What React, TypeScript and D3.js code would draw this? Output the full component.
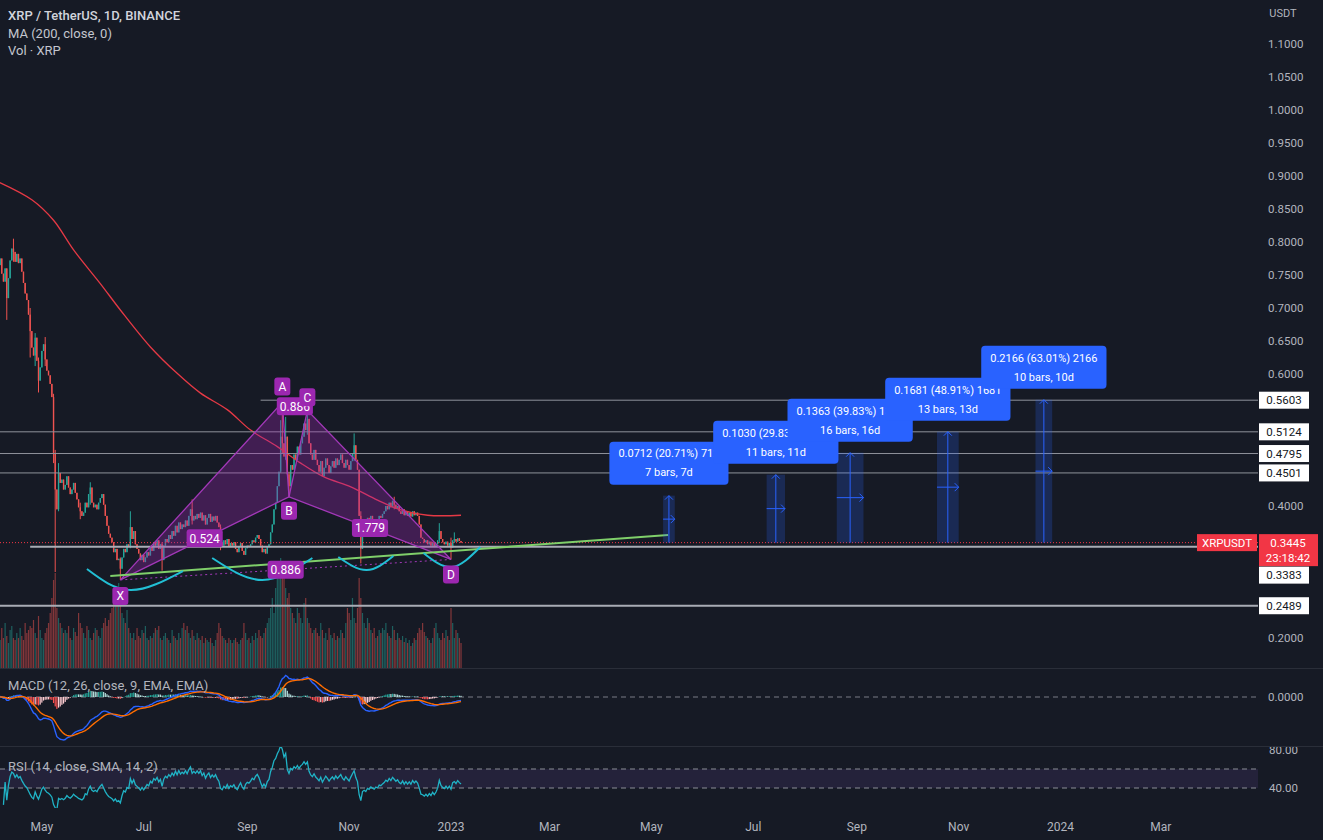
import React from 'react';
import * as d3 from 'd3';

// ---------------- DATA ----------------
const firstDay = '2022-04-05';

const closes = [
  0.765, 0.775, 0.752, 0.740, 0.760, 0.715, 0.745, 0.772, 0.790, 0.785,
  0.770, 0.782, 0.768, 0.775, 0.755, 0.738, 0.722, 0.712, 0.690, 0.665,
  0.640, 0.628, 0.655, 0.620, 0.590, 0.610, 0.635, 0.645, 0.622, 0.605,
  0.598, 0.585, 0.565, 0.480, 0.425, 0.395, 0.450, 0.435, 0.440, 0.425,
  0.432, 0.445, 0.428, 0.418, 0.425, 0.435, 0.420, 0.410, 0.398, 0.392,
  0.385, 0.390, 0.405, 0.398, 0.418, 0.428, 0.405, 0.398, 0.402, 0.395,
  0.405, 0.412, 0.418, 0.402, 0.385, 0.370, 0.358, 0.352, 0.345, 0.330,
  0.335, 0.318, 0.320, 0.305, 0.322, 0.335, 0.330, 0.342, 0.338, 0.368,
  0.350, 0.362, 0.342, 0.335, 0.328, 0.318, 0.326, 0.315, 0.322, 0.330,
  0.325, 0.338, 0.332, 0.345, 0.340, 0.348, 0.335, 0.342, 0.318, 0.340,
  0.350, 0.345, 0.356, 0.350, 0.362, 0.355, 0.370, 0.360, 0.375, 0.365,
  0.372, 0.368, 0.378, 0.370, 0.385, 0.395, 0.378, 0.385, 0.380, 0.388,
  0.382, 0.390, 0.378, 0.386, 0.372, 0.382, 0.388, 0.376, 0.384, 0.378,
  0.385, 0.375, 0.368, 0.345, 0.340, 0.348, 0.342, 0.350, 0.338, 0.344,
  0.340, 0.345, 0.335, 0.330, 0.338, 0.344, 0.332, 0.326, 0.336, 0.340,
  0.338, 0.342, 0.348, 0.345, 0.352, 0.356, 0.350, 0.340, 0.330, 0.335,
  0.328, 0.338, 0.342, 0.360, 0.372, 0.395, 0.405, 0.430, 0.452, 0.505,
  0.495, 0.475, 0.505, 0.448, 0.430, 0.462, 0.455, 0.478, 0.470, 0.490,
  0.478, 0.495, 0.505, 0.525, 0.515, 0.532, 0.495, 0.478, 0.470, 0.485,
  0.470, 0.462, 0.452, 0.468, 0.445, 0.458, 0.472, 0.462, 0.450, 0.460,
  0.468, 0.458, 0.472, 0.462, 0.470, 0.478, 0.465, 0.458, 0.470, 0.462,
  0.455, 0.468, 0.480, 0.492, 0.470, 0.455, 0.385, 0.335, 0.372, 0.378,
  0.368, 0.382, 0.375, 0.385, 0.378, 0.372, 0.380, 0.375, 0.385, 0.382,
  0.388, 0.392, 0.400, 0.395, 0.405, 0.398, 0.408, 0.402, 0.396, 0.400,
  0.392, 0.388, 0.395, 0.386, 0.392, 0.385, 0.390, 0.384, 0.392, 0.386,
  0.390, 0.385, 0.372, 0.352, 0.350, 0.345, 0.348, 0.342, 0.346, 0.340,
  0.345, 0.338, 0.342, 0.348, 0.362, 0.350, 0.345, 0.342, 0.346, 0.340,
  0.344, 0.337, 0.348, 0.350, 0.346, 0.351, 0.347, 0.3445,
];

// [bar index, high, low] for the bars whose wicks stand out
const wicks: [number, number, number][] = [
  [5, 0.758, 0.682], [9, 0.805, 0.770], [19, 0.700, 0.625], [22, 0.662, 0.612],
  [24, 0.625, 0.572], [28, 0.656, 0.612], [33, 0.570, 0.465], [34, 0.485, 0.300],
  [36, 0.465, 0.392], [49, 0.405, 0.380], [55, 0.436, 0.402], [73, 0.322, 0.288],
  [79, 0.392, 0.336], [98, 0.345, 0.302], [116, 0.41, 0.372], [133, 0.372, 0.333],
  [169, 0.530, 0.450], [170, 0.557, 0.480], [172, 0.535, 0.470], [174, 0.452, 0.414],
  [185, 0.545, 0.508], [213, 0.510, 0.468], [217, 0.392, 0.313], [237, 0.414, 0.395],
  [264, 0.374, 0.344], [271, 0.352, 0.319], [273, 0.360, 0.344],
];

const volumes = [
  35, 28, 40, 30, 45, 32, 25, 38, 42, 30,
  28, 35, 30, 40, 32, 28, 45, 35, 38, 42,
  40, 48, 35, 30, 52, 38, 30, 28, 35, 40,
  45, 55, 70, 88, 95, 60, 50, 45, 40, 35,
  38, 35, 42, 30, 28, 40, 36, 32, 55, 45,
  40, 35, 30, 42, 38, 30, 28, 35, 40, 38,
  32, 30, 40, 45, 50, 42, 48, 55, 60, 70,
  75, 80, 85, 78, 55, 50, 45, 58, 40, 35,
  30, 35, 28, 40, 32, 30, 38, 35, 42, 30,
  28, 32, 30, 35, 40, 38, 42, 30, 28, 32,
  35, 30, 28, 25, 38, 32, 30, 28, 35, 30,
  40, 45, 38, 42, 35, 30, 38, 32, 28, 35,
  30, 28, 32, 25, 30, 28, 26, 30, 25, 22,
  28, 35, 45, 40, 32, 30, 28, 25, 30, 28,
  25, 28, 30, 26, 24, 28, 30, 45, 35, 28,
  30, 25, 32, 28, 35, 30, 38, 32, 30, 35,
  40, 45, 50, 60, 70, 55, 80, 95, 105, 110,
  100, 90, 80, 70, 75, 60, 55, 50, 45, 60,
  55, 50, 45, 65, 70, 50, 45, 40, 35, 38,
  40, 35, 32, 45, 38, 30, 35, 28, 40, 33,
  30, 35, 28, 32, 30, 38, 35, 30, 45, 60,
  55, 48, 70, 50, 45, 60, 90, 70, 55, 45,
  40, 50, 45, 38, 35, 40, 30, 32, 38, 35,
  40, 38, 45, 35, 32, 30, 42, 38, 28, 35,
  30, 28, 32, 26, 30, 25, 28, 22, 25, 30,
  28, 35, 40, 38, 45, 36, 32, 30, 28, 25,
  30, 40, 45, 35, 30, 28, 35, 30, 38, 32,
  28, 60, 45, 30, 38, 35, 30, 25,
];

// MA(200): [bar index, value]
const ma200: [number, number][] = [
  [0, 0.891], [20, 0.864], [33, 0.833], [45, 0.788], [61, 0.737], [73, 0.697],
  [91, 0.641], [107, 0.601], [121, 0.571], [137, 0.546], [151, 0.515], [167, 0.490],
  [181, 0.465], [195, 0.444], [211, 0.429], [227, 0.409], [241, 0.394], [257, 0.386],
  [277, 0.386],
];

const priceTicks = [1.1, 1.05, 1.0, 0.95, 0.9, 0.85, 0.8, 0.75, 0.7, 0.65, 0.6, 0.55, 0.5, 0.45, 0.4, 0.35, 0.3, 0.25, 0.2];

const timeTicks = ['2022-05-01', '2022-07-01', '2022-09-01', '2022-11-01', '2023-01-01', '2023-03-01',
  '2023-05-01', '2023-07-01', '2023-09-01', '2023-11-01', '2024-01-01', '2024-03-01'];
const timeTickLabels = ['May', 'Jul', 'Sep', 'Nov', '2023', 'Mar', 'May', 'Jul', 'Sep', 'Nov', '2024', 'Mar'];

const levelPrices = [0.5603, 0.5124, 0.4795, 0.4501, 0.3383, 0.2489];
const levelStartBar = [157, -2, -2, -2, 19, -2];

const lastPrice = 0.3445;
const countdown = '23:18:42';
const symbol = 'XRPUSDT';

// XABCD harmonic pattern
const patternNames = ['X', 'A', 'B', 'C', 'D'];
const patternBars = [73, 170, 174, 185, 271];
const patternPrices = [0.288, 0.557, 0.414, 0.545, 0.319];
const ratioXB = '0.524';
const ratioAC = '0.886';
const ratioBD = '1.779';
const ratioXD = '0.886';

// Trend line: [bar, price]
const trendLine: [number, number][] = [[67, 0.294], [401, 0.356]];

// Cyan arcs: three points each [bar, price]
const arcs: [number, number][][] = [
  [[53, 0.3045], [79, 0.2727], [110.5, 0.3015]],
  [[128, 0.3212], [158, 0.2879], [188, 0.3212]],
  [[203.5, 0.3227], [220.5, 0.3030], [236.5, 0.3242]],
  [[254.5, 0.3288], [271.5, 0.3076], [288.5, 0.3379]],
];

// Price range measurements
const measureStart = [398, 460, 502, 562, 621];
const measureBars = [7, 11, 16, 13, 10];
const measureDelta = [0.0712, 0.1030, 0.1363, 0.1681, 0.2166];
const measureText1 = ['0.0712 (20.71%) 712', '0.1030 (29.83%) 1030', '0.1363 (39.83%) 1363', '0.1681 (48.91%) 1681', '0.2166 (63.01%) 2166'];
const measureText2 = ['7 bars, 7d', '11 bars, 11d', '16 bars, 16d', '13 bars, 13d', '10 bars, 10d'];

const rsiTicks = [80, 40];
const rsiBands = [60, 40];

// ---------------- HELPERS ----------------
function ema(arr: number[], n: number) {
  const k = 2 / (n + 1);
  const out: number[] = [];
  arr.forEach((v, i) => out.push(i === 0 ? v : v * k + out[i - 1] * (1 - k)));
  return out;
}

function textWidth(t: string, font: string) {
  const c = document.createElement('canvas').getContext('2d');
  if (!c) return t.length * 6;
  c.font = font;
  return c.measureText(t).width;
}

const BG = '#161a25';
const FONT = 'Roboto, "Noto Sans", sans-serif';
const UP = '#26a69a';
const DOWN = '#ef5350';
const PURPLE = '#9c27b0';
const BLUE = '#2962ff';

export default function App() {
  const W = 1323, H = 840;
  const plotR = 1258;
  const DAY = 86400000;
  const t0 = d3.utcParse('%Y-%m-%d')(firstDay)!.getTime();
  const dateOf = (i: number) => new Date(t0 + i * DAY);
  const x = d3.scaleUtc()
    .domain([new Date(Date.UTC(2023, 0, 1)), new Date(Date.UTC(2024, 0, 1))])
    .range([451, 451 + 365 * 1.67]);
  const xi = (i: number) => x(dateOf(i));

  const y = d3.scaleLinear().domain([0.2, 1.1]).range([638, 44]);
  const vy = d3.scaleLinear().domain([0, 100]).range([668, 568]);
  const ry = d3.scaleLinear().domain([40, 80]).range([788, 750]);

  const candles = closes.map((c, i) => {
    const o = i === 0 ? c : closes[i - 1];
    let h = Math.max(o, c), l = Math.min(o, c);
    const w = wicks.find((q) => q[0] === i);
    if (w) { h = Math.max(h, w[1]); l = Math.min(l, w[2]); }
    return { i, o, c, h, l, up: c >= o };
  });

  // MACD
  const e12 = ema(closes, 12), e26 = ema(closes, 26);
  const macd = closes.map((_, i) => e12[i] - e26[i]);
  const signal = ema(macd, 9);
  const hist = macd.map((m, i) => m - signal[i]);
  const mMin = d3.min(macd)!;
  const my = d3.scaleLinear().domain([mMin, 0]).range([740, 697]);

  // RSI (14): running mean for the first bars, then Wilder smoothing
  const rsi: (number | null)[] = [];
  let ag = 0, al = 0;
  closes.forEach((c, i) => {
    if (i === 0) { rsi.push(null); return; }
    const ch = c - closes[i - 1];
    const g = Math.max(ch, 0), l = Math.max(-ch, 0);
    const n = Math.min(i, 14);
    ag = (ag * (n - 1) + g) / n;
    al = (al * (n - 1) + l) / n;
    rsi.push(i < 3 ? null : (al === 0 ? 100 : 100 - 100 / (1 + ag / al)));
  });

  const lineGen = d3.line<[number, number]>().x((d) => xi(d[0])).y((d) => y(d[1]));
  const maPath = d3.line<[number, number]>().x((d) => xi(d[0])).y((d) => y(d[1])).curve(d3.curveCatmullRom)(ma200)!;
  const arcGen = d3.line<[number, number]>().x((d) => xi(d[0])).y((d) => y(d[1])).curve(d3.curveNatural);
  const macdLine = d3.line<number>().x((_, i) => xi(i)).y((d) => my(d));
  const rsiLine = d3.line<number | null>().defined((d) => d !== null).x((_, i) => xi(i)).y((d) => ry(d as number));

  const pts = patternBars.map((b, k) => ({ x: xi(b), y: y(patternPrices[k]), name: patternNames[k] }));
  const [pX, pA, pB, pC, pD] = pts;
  const mid = (a: any, b: any) => ({ x: (a.x + b.x) / 2, y: (a.y + b.y) / 2 });
  const ratioLabels = [
    { t: ratioXB, ...mid(pX, pB) },
    { t: ratioAC, ...mid(pA, pC) },
    { t: ratioBD, ...mid(pB, pD) },
    { t: ratioXD, ...mid(pX, pD) },
  ];
  const pointLabelOffset = [16, -16, 14, -13, 15];

  const lastY = y(lastPrice);
  const thick = new Set([0.3383, 0.2489]);

  const labelFont = `11px ${FONT}`;

  // axis label boxes (price levels), pushed below the last-price box when they collide
  const levelBoxes = levelPrices.map((p) => {
    let cy = y(p);
    if (cy + 8.5 > lastY - 8.5 && cy - 8.5 < lastY + 24) cy = lastY + 24 + 8.5;
    return { p, cy };
  });
  const occupied = [...levelBoxes.map((b) => [b.cy - 8.5, b.cy + 8.5]), [lastY - 8.5, lastY + 23.5]];
  const visibleTicks = priceTicks.filter((p) => {
    const ty = y(p);
    return !occupied.some(([a, b]) => ty + 6 > a && ty - 6 < b);
  });

  return (
    <div style={{ position: 'absolute', left: 0, top: 0 }}>
      <svg width={W} height={H} style={{ display: 'block', background: BG }} fontFamily={FONT}>
        <defs>
          <clipPath id="mainClip"><rect x={0} y={0} width={plotR} height={668} /></clipPath>
          <clipPath id="macdClip"><rect x={0} y={669} width={plotR} height={77} /></clipPath>
          <clipPath id="rsiClip"><rect x={0} y={747} width={plotR} height={61} /></clipPath>
          <clipPath id="rsiAxisClip"><rect x={plotR} y={747} width={W - plotR} height={61} /></clipPath>
        </defs>
        <rect x={0} y={0} width={W} height={H} fill={BG} />

        {/* pane separators */}
        <line x1={0} x2={W} y1={668.5} y2={668.5} stroke="#2a2e39" />
        <line x1={0} x2={W} y1={746.5} y2={746.5} stroke="#2a2e39" />

        {/* ===== MAIN PANE ===== */}
        <g clipPath="url(#mainClip)">
          {/* volume */}
          {candles.map((d) => (
            <rect key={'v' + d.i} x={xi(d.i) - 0.6} width={1.2} y={vy(volumes[d.i])} height={668 - vy(volumes[d.i])}
              fill={d.up ? UP : DOWN} opacity={0.5} />
          ))}
          {/* candles */}
          {candles.map((d) => {
            const cx = xi(d.i);
            const col = d.up ? UP : DOWN;
            const yt = y(Math.max(d.o, d.c)), yb = y(Math.min(d.o, d.c));
            return (
              <g key={'c' + d.i}>
                <line x1={cx} x2={cx} y1={y(d.h)} y2={y(d.l)} stroke={col} strokeWidth={1} />
                <rect x={cx - 0.7} width={1.4} y={yt} height={Math.max(1, yb - yt)} fill={col} />
              </g>
            );
          })}
          {/* MA 200 */}
          <path d={maPath} fill="none" stroke="#e53945" strokeWidth={1.3} />

          {/* horizontal levels */}
          {levelPrices.map((p, k) => (
            <line key={'lv' + k} x1={xi(levelStartBar[k])} x2={plotR} y1={y(p)} y2={y(p)}
              stroke={thick.has(p) ? '#a9acb5' : '#8f929b'} strokeWidth={thick.has(p) ? 2 : 1} />
          ))}
          {/* last price dotted */}
          <line x1={0} x2={plotR} y1={lastY} y2={lastY} stroke="#f23645" strokeWidth={1} strokeDasharray="1 2" />

          {/* XABCD pattern */}
          <polygon points={[pX, pA, pB].map((p) => `${p.x},${p.y}`).join(' ')} fill={PURPLE} fillOpacity={0.33}
            stroke="#a238b8" strokeWidth={1.3} />
          <polygon points={[pB, pC, pD].map((p) => `${p.x},${p.y}`).join(' ')} fill={PURPLE} fillOpacity={0.33}
            stroke="#a238b8" strokeWidth={1.3} />
          <line x1={pA.x} y1={pA.y} x2={pC.x} y2={pC.y} stroke="#a238b8" strokeDasharray="3 3" />
          <line x1={pX.x} y1={pX.y} x2={pD.x} y2={pD.y} stroke="#a238b8" strokeDasharray="2 3" />

          {/* trend line */}
          <path d={lineGen(trendLine)!} stroke="#7fcf6a" strokeWidth={2} fill="none" />
          {/* arcs */}
          {arcs.map((a, k) => (
            <path key={'arc' + k} d={arcGen(a)!} stroke="#22bfd4" strokeWidth={2} fill="none" />
          ))}

          {/* ratio labels */}
          {ratioLabels.map((r, k) => {
            const w = textWidth(r.t, `12px ${FONT}`) + 6;
            return (
              <g key={'rl' + k}>
                <rect x={r.x - w / 2} y={r.y - 9} width={w} height={18} rx={3} fill={PURPLE} />
                <text x={r.x} y={r.y} dy="0.35em" textAnchor="middle" fontSize={12} fill="#fff">{r.t}</text>
              </g>
            );
          })}
          {/* point labels */}
          {pts.map((p, k) => {
            const cy = p.y + pointLabelOffset[k];
            return (
              <g key={'pl' + k}>
                <rect x={p.x - 8} y={cy - 9} width={16} height={18} rx={3} fill={PURPLE} />
                <text x={p.x} y={cy} dy="0.35em" textAnchor="middle" fontSize={12} fill="#fff">{p.name}</text>
              </g>
            );
          })}

          {/* measurements */}
          {measureStart.map((s, k) => {
            const x0 = xi(s), x1 = xi(s + measureBars[k]);
            const cx = (x0 + x1) / 2;
            const yT = y(lastPrice + measureDelta[k]);
            const yB = lastY;
            const ym = (yT + yB) / 2;
            const tw = Math.max(textWidth(measureText1[k], labelFont), textWidth(measureText2[k], labelFont));
            const bw = tw + 18;
            const bTop = yT - 11 - 43;
            return (
              <g key={'m' + k}>
                <rect x={x0} y={yT} width={x1 - x0} height={yB - yT} fill={BLUE} fillOpacity={0.22} />
                <line x1={cx} x2={cx} y1={yB} y2={yT} stroke={BLUE} strokeWidth={1} />
                <path d={`M${cx - 4},${yT + 4}L${cx},${yT}L${cx + 4},${yT + 4}`} stroke={BLUE} fill="none" />
                <line x1={x0} x2={x1} y1={ym} y2={ym} stroke={BLUE} strokeWidth={1} />
                <path d={`M${x1 - 4},${ym - 4}L${x1},${ym}L${x1 - 4},${ym + 4}`} stroke={BLUE} fill="none" />
                <rect x={cx - bw / 2} y={bTop} width={bw} height={43} rx={4} fill={BLUE} />
                <text x={cx} y={bTop + 12} dy="0.35em" textAnchor="middle" fontSize={11} fill="#fff">{measureText1[k]}</text>
                <text x={cx} y={bTop + 31} dy="0.35em" textAnchor="middle" fontSize={11} fill="#fff">{measureText2[k]}</text>
              </g>
            );
          })}

          {/* symbol label */}
          <rect x={1197} y={lastY - 8.5} width={60} height={17} fill="#f23645" />
          <text x={1227} y={lastY} dy="0.35em" textAnchor="middle" fontSize={11.5} fill="#fff">{symbol}</text>
        </g>

        {/* legend */}
        <text x={8} y={15} dy="0.35em" fontSize={13} fontWeight={500} fill="#d1d4dc">XRP / TetherUS, 1D, BINANCE</text>
        <text x={8} y={33} dy="0.35em" fontSize={13} fill="#c3c6ce">MA (200, close, 0)</text>
        <text x={8} y={50} dy="0.35em" fontSize={13} fill="#c3c6ce">Vol · XRP</text>

        {/* price axis */}
        <text x={1283} y={13} dy="0.35em" textAnchor="middle" fontSize={11} fill="#b2b5be">USDT</text>
        {visibleTicks.map((p) => (
          <text key={'pt' + p} x={1268} y={y(p)} dy="0.35em" fontSize={11.5} fill="#b2b5be">{p.toFixed(4)}</text>
        ))}
        {levelBoxes.map((b, k) => (
          <g key={'lb' + k}>
            <rect x={1259} y={b.cy - 8.5} width={50} height={17} fill="#ffffff" />
            <text x={1284} y={b.cy} dy="0.35em" textAnchor="middle" fontSize={11.5} fill="#131722">{b.p.toFixed(4)}</text>
          </g>
        ))}
        <rect x={1259} y={lastY - 8.5} width={59} height={32} fill="#f23645" />
        <text x={1288} y={lastY + 0.5} dy="0.35em" textAnchor="middle" fontSize={11.5} fill="#fff">{lastPrice.toFixed(4)}</text>
        <text x={1288} y={lastY + 15} dy="0.35em" textAnchor="middle" fontSize={11.5} fill="#fff">{countdown}</text>

        {/* ===== MACD PANE ===== */}
        <g clipPath="url(#macdClip)">
          <line x1={0} x2={plotR} y1={my(0)} y2={my(0)} stroke="#787b86" strokeDasharray="5 4" />
          {hist.map((h, i) => {
            const prev = i === 0 ? 0 : hist[i - 1];
            const col = h >= 0 ? (h >= prev ? '#26a69a' : '#b2dfdb') : (h < prev ? '#ff5252' : '#ffcdd2');
            const y0 = my(0), y1 = my(h);
            return <rect key={'h' + i} x={xi(i) - 0.6} width={1.2} y={Math.min(y0, y1)} height={Math.max(0.5, Math.abs(y1 - y0))} fill={col} />;
          })}
          <path d={macdLine(macd)!} fill="none" stroke={BLUE} strokeWidth={1.4} />
          <path d={macdLine(signal)!} fill="none" stroke="#ff6d00" strokeWidth={1.4} />
        </g>
        <text x={8} y={685} dy="0.35em" fontSize={13} fill="#b2b5be">MACD (12, 26, close, 9, EMA, EMA)</text>
        <text x={1268} y={my(0)} dy="0.35em" fontSize={11.5} fill="#b2b5be">0.0000</text>

        {/* ===== RSI PANE ===== */}
        <g clipPath="url(#rsiClip)">
          <rect x={0} y={ry(rsiBands[0])} width={plotR} height={ry(rsiBands[1]) - ry(rsiBands[0])} fill="#7e57c2" fillOpacity={0.14} />
          {rsiBands.map((b) => (
            <line key={'rb' + b} x1={0} x2={plotR} y1={ry(b)} y2={ry(b)} stroke="#8a8d96" strokeDasharray="5 4" />
          ))}
          <path d={rsiLine(rsi)!} fill="none" stroke="#20b3c6" strokeWidth={1.3} />
        </g>
        <text x={8} y={766} dy="0.35em" fontSize={13} fill="#b2b5be">RSI (14, close, SMA, 14, 2)</text>
        <g clipPath="url(#rsiAxisClip)">
          {rsiTicks.map((t) => (
            <text key={'rt' + t} x={1269} y={ry(t)} dy="0.35em" fontSize={11.5} fill="#b2b5be">{t.toFixed(2)}</text>
          ))}
        </g>

        {/* time axis */}
        {timeTicks.map((t, k) => (
          <text key={'tt' + k} x={x(d3.utcParse('%Y-%m-%d')(t)!)} y={827} dy="0.35em" textAnchor="middle" fontSize={12} fill="#b2b5be">
            {timeTickLabels[k]}
          </text>
        ))}
      </svg>
    </div>
  );
}
